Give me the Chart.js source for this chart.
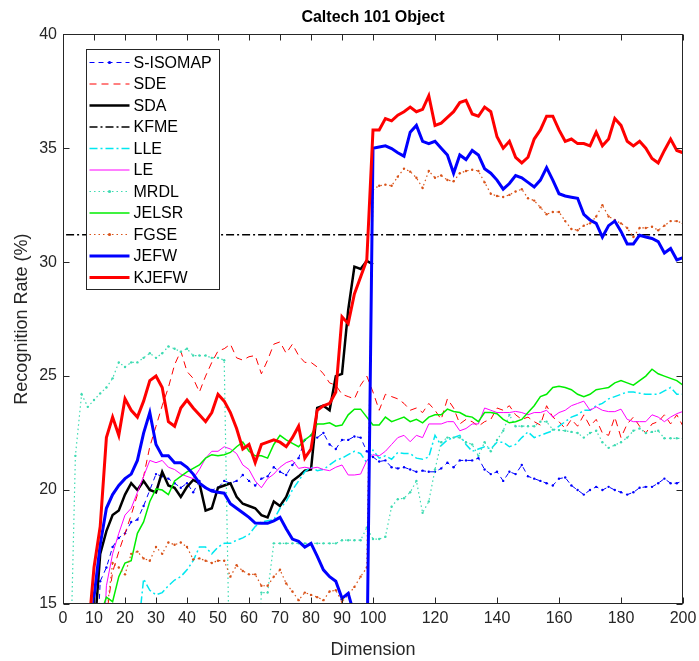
<!DOCTYPE html>
<html>
<head>
<meta charset="utf-8">
<title>Caltech 101 Object</title>
<script src="https://cdn.jsdelivr.net/npm/chart.js@4.4.0/dist/chart.umd.min.js"></script>
<style>
  body { margin: 0; background: #fff; }
  #wrap { width: 699px; height: 661px; }
</style>
</head>
<body>
<div id="wrap"><canvas id="rateChart" width="699" height="661"></canvas></div>
<script>
  // reduced dimension (every second one), shared by all methods
  const dims = [2,4,6,8,10,12,14,16,18,20,22,24,26,28,30,32,34,36,38,40,
    42,44,46,48,50,52,54,56,58,60,62,64,66,68,70,72,74,76,78,80,
    82,84,86,88,90,92,94,96,98,100,102,104,106,108,110,112,114,116,118,120,
    122,124,126,128,130,132,134,136,138,140,142,144,146,148,150,152,154,156,158,160,
    162,164,166,168,170,172,174,176,178,180,182,184,186,188,190,192,194,196,198,200];

  const xTicks = [0,10,20,30,40,50,60,70,80,90,100,120,140,160,180,200];
  const yTicks = [15,20,25,30,35,40];

  // recognition rate (%) per method, values below 15 fall off the axes
  const sIsomap = [10,10,10,10,10,16.0,16.6,17.5,17.9,18.1,18.6,18.7,19.3,20.0,20.7,
    20.6,20.5,20.3,20.1,20.3,19.9,20.4,20.1,20.0,20.1,20.4,20.3,20.4,20.66,20.4,
    20.2,20.5,20.6,21.0,20.8,20.66,21.1,21.4,22.2,22.4,22.3,22.5,22.0,21.8,22.2,
    22.2,22.35,22.3,21.7,21.45,21.25,21.3,21.0,20.95,21.0,20.9,20.8,20.85,20.8,20.8,
    20.95,21.2,21.0,21.3,21.3,21.3,21.4,20.9,20.7,20.8,20.4,20.8,20.7,21.1,20.6,
    20.5,20.4,20.3,20.2,20.5,20.55,20.2,20.0,19.8,20.0,20.14,20.0,20.14,20.0,19.9,
    19.8,19.9,20.1,20.14,20.14,20.3,20.5,20.3,20.3,20.4];

  const sde = [10,10,10,10,10,10,14.5,16.4,17.3,18.1,18.9,19.8,20.6,21.9,22.8,23.7,
    24.5,25.5,26.1,25.2,24.9,24.3,25.0,25.6,26.1,26.2,26.4,25.8,25.7,25.85,25.9,
    25.1,25.7,26.4,26.5,26.0,26.4,25.9,25.6,25.6,25.4,25.1,24.7,24.6,24.2,24.1,
    24.0,24.6,25.0,24.3,23.5,24.2,24.1,24.0,23.8,23.5,23.6,23.4,23.8,23.5,23.1,
    24.0,23.6,22.9,23.1,23.0,22.8,23.0,23.1,23.6,23.5,23.7,23.3,23.1,23.2,23.0,
    22.85,23.7,23.2,23.0,22.7,23.1,22.8,23.3,22.8,23.1,22.5,22.4,23.2,22.3,22.9,
    23.2,22.8,22.5,22.9,23.0,23.3,22.9,23.3,22.8];

  // SDA stops at dimension 100
  const sda = [10,10,10,10,13.5,17.2,18.2,18.9,19.1,19.8,20.3,20.0,20.4,20.0,19.9,
    20.8,20.2,20.1,19.7,20.14,20.44,20.3,19.1,19.2,20.1,20.2,20.3,19.7,19.4,19.3,
    19.2,18.9,18.8,19.5,19.3,19.7,20.4,20.6,20.85,20.9,23.6,23.7,23.5,25.0,25.1,
    27.9,29.8,29.7,30.05,29.9];

  const kfmeDims = [1, 200];
  const kfme = [31.2, 31.2];

  const lle = [10,10,10,10,10,10,10,10,10,10,10,13.5,16.1,15.6,15.4,15.5,15.8,16.05,16.2,16.5,
    16.9,17.5,17.5,17.2,17.5,17.66,17.66,17.8,17.9,18.05,18.4,18.6,18.65,18.7,19.2,
    19.5,20.0,20.4,20.8,21.0,20.85,20.9,21.1,21.3,21.4,21.55,21.7,21.6,21.2,21.75,
    21.4,21.5,21.35,21.65,21.6,21.6,21.4,21.35,21.45,22.4,21.95,22.2,22.3,22.4,22.0,
    21.7,21.8,21.9,21.8,22.1,22.1,21.9,22.0,22.3,22.55,22.3,22.4,22.5,22.6,22.8,
    23.0,23.2,23.3,23.5,23.5,23.7,23.8,24.0,24.1,24.2,24.3,24.3,24.25,24.2,24.2,
    24.2,24.35,24.5,24.2,24.2];

  const le = [10,10,10,10,10,10,15.8,17.2,18.1,18.9,19.2,19.9,20.6,21.3,21.2,21.3,
    21.0,20.9,20.7,20.6,20.5,20.9,21.4,21.7,21.7,21.9,21.8,21.6,21.1,20.9,20.4,
    20.1,20.5,20.7,21.0,21.2,21.3,20.95,21.0,20.95,21.0,20.9,20.85,21.0,21.1,20.66,
    20.66,20.7,21.3,21.55,21.5,21.7,22.0,22.3,22.4,22.12,22.4,22.3,22.9,22.9,22.9,
    23.0,23.0,22.6,22.7,22.9,22.9,23.6,23.5,23.4,23.4,23.4,23.45,23.4,23.3,23.4,
    23.4,23.5,23.2,23.4,23.5,23.7,23.8,23.9,23.5,23.65,23.5,23.44,23.44,23.55,23.1,
    23.0,23.0,23.0,23.3,23.2,23.0,23.2,23.35,23.45];

  // MRDL leaves the axes between dimensions 53 and 63
  const mrdl = [10,21.5,24.2,23.65,23.95,24.24,24.5,24.9,25.6,25.4,
    25.6,25.6,25.8,26.0,25.8,26.0,26.3,26.2,26.07,26.2,
    25.9,25.9,25.9,25.8,25.8,25.7,10,10,10,10,
    10,15.5,15.5,17.66,17.66,17.66,17.66,17.66,17.66,17.66,
    17.66,17.66,17.66,17.66,17.8,17.8,17.8,17.8,18.35,17.85,
    17.85,17.95,19.27,19.6,19.64,19.9,20.4,19.0,19.5,20.9,
    22.1,22.3,22.3,22.3,22.1,22.0,21.5,22.1,21.7,22.2,
    22.6,23.3,22.8,22.8,22.8,22.8,23.0,23.0,22.65,22.63,
    22.6,22.55,22.5,22.3,22.5,22.6,22.1,21.85,21.97,22.1,
    22.3,22.6,22.7,22.5,22.55,22.6,22.27,22.27,22.27,22.27];

  const jelsr = [10,10,10,10,10,14.5,15.3,15.1,16.2,16.8,16.9,18.1,18.6,19.5,20.05,
    20.0,19.8,20.4,20.6,20.8,20.95,21.1,21.4,21.55,21.5,21.55,21.65,21.9,22.1,21.7,
    21.5,21.5,21.4,22.0,22.4,22.2,22.05,21.9,22.2,22.4,22.9,22.9,22.95,22.8,22.85,
    23.3,23.55,23.55,23.2,22.85,22.85,23.2,23.0,23.1,23.2,23.0,23.1,22.95,23.2,23.3,
    23.3,23.55,23.45,23.4,23.25,23.2,23.0,23.4,23.4,23.35,23.1,22.95,23.0,23.1,23.4,
    23.7,24.1,24.2,24.5,24.55,24.5,24.4,24.2,24.1,24.2,24.4,24.45,24.5,24.7,24.8,
    24.7,24.6,24.8,25.0,25.3,25.1,25.0,24.9,24.8,24.6];

  const fgse = [10,10,10,10,10,10,14.5,16.8,16.6,16.3,17.2,17.3,17.0,16.9,17.5,17.2,
    17.7,17.6,17.7,17.5,16.95,17.0,16.9,16.8,16.9,16.9,16.2,16.7,16.45,16.3,16.3,
    15.8,15.8,16.2,16.5,15.9,15.55,15.17,15.5,15.4,15.3,15.17,15.55,15.6,15.1,15.4,
    15.75,16.2,16.6,33.2,33.35,33.4,33.35,33.75,34.1,33.97,33.7,33.25,34.0,33.7,33.8,
    33.6,33.55,33.9,34.0,34.05,34.0,33.5,33.0,32.9,32.86,32.95,33.1,33.2,32.8,32.7,
    32.4,32.1,32.2,32.2,31.8,31.45,31.4,31.6,31.7,32.0,32.5,32.0,31.85,31.7,31.5,
    31.1,31.5,31.5,31.55,31.4,31.6,31.8,31.8,31.7];

  const jefw = [10,10,10,10,15.3,17.6,19.2,19.8,20.2,20.5,20.7,21.3,22.5,23.4,22.0,
    21.5,21.5,21.2,21.2,21.0,20.7,20.3,20.1,19.95,19.9,19.86,19.4,19.2,19.0,18.8,
    18.55,18.54,18.54,18.65,18.8,18.3,17.85,17.75,17.5,17.66,17.1,16.5,16.2,16.0,15.25,
    15.47,14.5,13.5,12,35.0,35.05,35.1,34.98,34.8,34.65,35.7,36.0,35.3,35.2,35.3,
    35.0,34.7,33.9,34.7,34.5,34.9,34.7,34.1,33.9,33.6,33.2,33.45,33.8,33.7,33.5,
    33.3,33.6,34.15,33.6,33.0,32.9,32.85,32.8,32.1,31.85,31.7,31.1,31.6,31.8,31.35,
    30.8,30.8,31.18,31.1,31.04,30.9,30.4,30.6,30.1,30.2];

  const kjefw = [10,10,10,13.5,16.6,18.4,22.3,23.2,22.4,24.0,23.5,23.2,23.9,24.8,25.0,
    24.5,23.0,22.8,23.6,23.95,23.6,23.3,23.0,23.4,24.2,23.9,23.4,22.7,21.8,22.0,
    21.2,22.0,22.1,22.2,22.1,21.9,22.3,22.8,21.4,21.8,23.5,23.7,23.8,24.3,27.6,
    27.3,28.6,29.35,30.1,35.8,35.8,36.3,36.2,36.45,36.6,36.8,36.6,36.7,37.3,36.0,
    36.1,36.35,36.6,37.0,37.1,36.5,36.4,36.8,36.6,35.5,35.0,35.3,34.6,34.35,34.6,
    35.4,35.8,36.4,36.4,35.8,35.3,35.4,35.2,35.2,35.1,35.7,35.1,35.4,36.3,36.0,
    35.3,35.1,35.3,35.0,34.55,34.35,34.9,35.4,34.9,34.8];

  const FONT = '"Liberation Sans", Arial, Helvetica, sans-serif';
  const AXIS_COLOR = '#262626';

  function pts(vals, xs) {
    xs = xs || dims;
    return vals.map((v, i) => ({ x: xs[i], y: v }));
  }

  // name, values, colour, width, dash, dot markers
  const series = [
    { label: 'S-ISOMAP', data: pts(sIsomap), color: '#0000ff', width: 1,   dash: [5, 4], dots: true },
    { label: 'SDE',      data: pts(sde),     color: '#ff0000', width: 1,   dash: [7, 5] },
    { label: 'SDA',      data: pts(sda),     color: '#000000', width: 2.5, dash: [] },
    { label: 'KFME',     data: pts(kfme, kfmeDims), color: '#000000', width: 1.5, dash: [8, 3, 2, 3] },
    { label: 'LLE',      data: pts(lle),     color: '#00e8f0', width: 1.5, dash: [8, 3, 2, 3] },
    { label: 'LE',       data: pts(le),      color: '#ff00ff', width: 1,   dash: [] },
    { label: 'MRDL',     data: pts(mrdl),    color: '#3edbb2', width: 1.2, dash: [1.5, 3], dots: true },
    { label: 'JELSR',    data: pts(jelsr),   color: '#00ee00', width: 1.5, dash: [] },
    { label: 'FGSE',     data: pts(fgse),    color: '#d95319', width: 1.2, dash: [1.5, 3], dots: true },
    { label: 'JEFW',     data: pts(jefw),    color: '#0000ff', width: 3,   dash: [] },
    { label: 'KJEFW',    data: pts(kjefw),   color: '#ff0000', width: 3,   dash: [] }
  ];

  const datasets = series.map((s, i) => ({
    label: s.label,
    data: s.data,
    borderColor: s.color,
    backgroundColor: s.color,
    borderWidth: s.width,
    borderDash: s.dash,
    pointRadius: s.dots ? 1.2 : 0,
    pointBorderWidth: 0,
    pointHoverRadius: 0,
    pointBackgroundColor: s.color,
    tension: 0,
    fill: false,
    order: series.length - i
  }));

  // box around the axes with inward tick marks on all four sides
  const frame = {
    id: 'frame',
    afterDatasetsDraw(chart) {
      const { ctx, chartArea: a, scales: { x, y } } = chart;
      const L = Math.round(a.left) + 0.5, R = Math.round(a.right) - 0.5;
      const T = Math.round(a.top) + 0.5, B = Math.round(a.bottom) - 0.5;
      ctx.save();
      ctx.setLineDash([]);
      ctx.strokeStyle = AXIS_COLOR;
      ctx.lineWidth = 1;
      ctx.beginPath();
      xTicks.forEach(v => {
        const px = Math.round(x.getPixelForValue(v)) + 0.5;
        ctx.moveTo(px, B); ctx.lineTo(px, B - 6);
        ctx.moveTo(px, T); ctx.lineTo(px, T + 6);
      });
      yTicks.forEach(v => {
        const py = Math.round(y.getPixelForValue(v)) + 0.5;
        ctx.moveTo(L, py); ctx.lineTo(L + 6, py);
        ctx.moveTo(R, py); ctx.lineTo(R - 6, py);
      });
      ctx.stroke();
      ctx.strokeRect(L, T, R - L, B - T);
      ctx.restore();
    }
  };

  // legend box in the upper left corner of the axes
  const legendBox = {
    id: 'legendBox',
    afterDraw(chart) {
      const { ctx, chartArea: a } = chart;
      const left = Math.round(a.left) + 23.5, top = Math.round(a.top) + 15.5;
      const w = 133, rowH = 21.5, h = 13 + rowH * (series.length - 1) + 12;
      ctx.save();
      ctx.fillStyle = '#ffffff';
      ctx.fillRect(left, top, w, h);
      ctx.strokeStyle = AXIS_COLOR;
      ctx.lineWidth = 1;
      ctx.setLineDash([]);
      ctx.strokeRect(left, top, w, h);
      ctx.font = '16px ' + FONT;
      ctx.textBaseline = 'middle';
      series.forEach((s, i) => {
        const yy = top + 13 + i * rowH;
        ctx.strokeStyle = s.color;
        ctx.lineWidth = s.width;
        ctx.setLineDash(s.dash);
        ctx.beginPath();
        ctx.moveTo(left + 3, yy);
        ctx.lineTo(left + 43, yy);
        ctx.stroke();
        if (s.dots) {
          ctx.fillStyle = s.color;
          ctx.beginPath();
          ctx.arc(left + 23, yy, 1.6, 0, Math.PI * 2);
          ctx.fill();
        }
        ctx.fillStyle = '#000000';
        ctx.fillText(s.label, left + 47, yy + 1);
      });
      ctx.restore();
    }
  };

  Chart.defaults.font.family = FONT;

  new Chart(document.getElementById('rateChart'), {
    type: 'line',
    data: { datasets },
    plugins: [frame, legendBox],
    options: {
      responsive: false,
      animation: false,
      devicePixelRatio: 1,
      layout: { padding: { left: 0, right: 16, top: 0, bottom: 0 } },
      plugins: {
        legend: { display: false },
        tooltip: { enabled: false },
        title: {
          display: true,
          fullSize: false,
          text: 'Caltech 101 Object',
          color: '#000000',
          font: { size: 16, weight: 'bold' },
          padding: { top: 8, bottom: 7 }
        }
      },
      scales: {
        x: {
          type: 'linear',
          min: 0,
          max: 200,
          afterBuildTicks: s => { s.ticks = xTicks.map(v => ({ value: v })); },
          afterFit: s => { s.height = 57; s.paddingLeft = 0; s.paddingRight = 0; },
          ticks: { autoSkip: false, maxRotation: 0, color: AXIS_COLOR, font: { size: 16 }, padding: 5 },
          grid: { display: false, drawTicks: false },
          border: { display: false },
          title: { display: true, text: 'Dimension', color: AXIS_COLOR, font: { size: 18 }, padding: { top: 0, bottom: 0 } }
        },
        y: {
          min: 15,
          max: 40,
          afterBuildTicks: s => { s.ticks = yTicks.map(v => ({ value: v })); },
          afterFit: s => { s.width = 63; s.paddingTop = 0; s.paddingBottom = 0; },
          ticks: { color: AXIS_COLOR, font: { size: 16 }, padding: 6 },
          grid: { display: false, drawTicks: false },
          border: { display: false },
          title: { display: true, text: 'Recognition Rate (%)', color: AXIS_COLOR, font: { size: 18 }, padding: { top: 11, bottom: 0 } }
        }
      }
    }
  });
</script>
</body>
</html>
